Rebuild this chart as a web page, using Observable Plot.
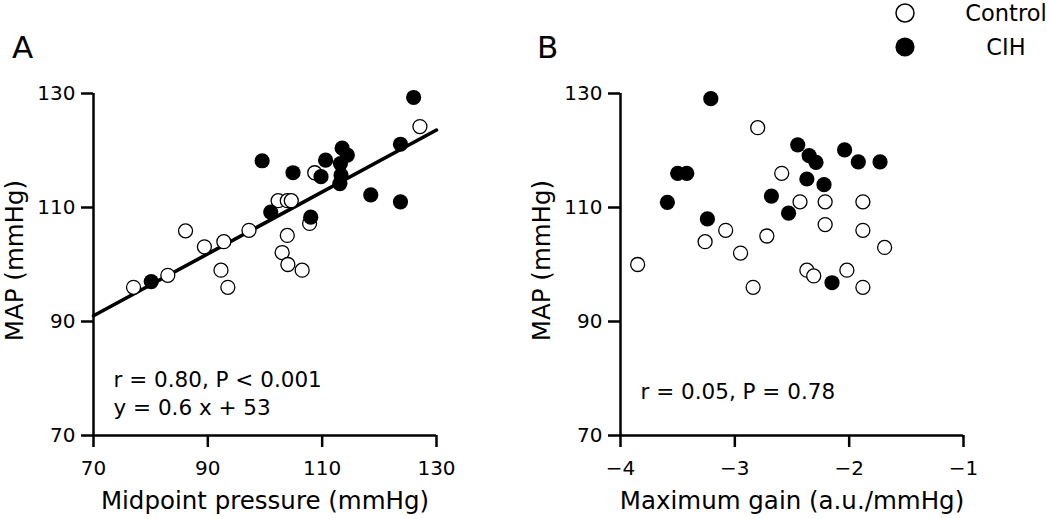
<!DOCTYPE html>
<html>
<head>
<meta charset="utf-8">
<script src="https://cdn.jsdelivr.net/npm/d3@7"></script>
<script src="https://cdn.jsdelivr.net/npm/@observablehq/plot@0.6"></script>
<style>
  body { margin: 0; background: #fff; }
  #chart { position: relative; width: 1050px; height: 519px; font-family: "DejaVu Sans"; color: #000; overflow: hidden; }
  #chart > svg { position: absolute; top: 0; }
</style>
</head>
<body>
<div id="chart"></div>
<script>
// ---- Data ----
// Panel A: MAP vs midpoint pressure
const controlMidpoint = [77.0, 83.0, 86.1, 89.4, 92.8, 92.3, 93.5, 97.2, 102.3, 103.9, 104.6, 103.9, 103.0, 104.0, 106.5, 107.8, 108.7, 127.1];
const controlMapA     = [96.0, 98.1, 105.9, 103.1, 104.0, 99.0, 96.0, 106.0, 111.2, 111.2, 111.2, 105.1, 102.1, 100.0, 99.0, 107.2, 116.1, 124.2];
const cihMidpoint = [80.1, 99.5, 101.0, 104.9, 108.0, 109.8, 110.6, 113.5, 114.4, 113.2, 113.3, 113.1, 118.5, 123.7, 123.7, 126.0];
const cihMapA     = [97.0, 118.2, 109.2, 116.1, 108.3, 115.4, 118.3, 120.4, 119.2, 117.7, 115.7, 114.2, 112.2, 111.0, 121.1, 129.3];

// Panel B: MAP vs maximum gain
const controlGain = [-3.85, -3.26, -3.08, -2.95, -2.84, -2.80, -2.72, -2.59, -2.43, -2.37, -2.31, -2.21, -2.21, -2.02, -1.88, -1.88, -1.88, -1.69];
const controlMapB = [100, 104, 106, 102, 96, 124, 105, 116, 111, 99, 98, 111, 107, 99, 111, 106, 96, 103];
const cihGain = [-3.21, -3.59, -3.50, -3.42, -3.24, -2.68, -2.53, -2.45, -2.35, -2.29, -2.37, -2.22, -2.04, -1.92, -1.73, -2.15];
const cihMapB = [129.1, 110.9, 116, 116, 108, 112, 109, 121, 119.1, 117.9, 115, 114, 120.1, 118, 118, 96.8];

// Regression line drawn in panel A
const fitSlope = 0.543;
const fitIntercept = 53;

// Axes
const mapDomain = [70, 130];
const mapTicks = [70, 90, 110, 130];
const midpointDomain = [70, 130];
const midpointTicks = [70, 90, 110, 130];
const gainDomain = [-4, -1];
const gainTicks = [-4, -3, -2, -1];

// Texts
const panelLetters = ["A", "B"];
const yTitle = "MAP (mmHg)";
const xTitleA = "Midpoint pressure (mmHg)";
const xTitleB = "Maximum gain (a.u./mmHg)";
const noteA = "r = 0.80, P < 0.001\ny = 0.6 x + 53";
const noteB = "r = 0.05, P = 0.78";
const legendLabels = ["Control", "CIH"];

// ---- Drawing ----
const FONT = "DejaVu Sans";
const toRows = (xs, ys) => xs.map((x, i) => ({x, y: ys[i]}));
const intFormat = d3.format("d");

function panel({xDomain, xTicks, xTitle, control, cih, fit, note, noteDy}) {
  const marks = [
    Plot.ruleX([xDomain[0]], {strokeWidth: 2.5}),
    Plot.ruleY([mapDomain[0]], {strokeWidth: 2.5}),
    Plot.axisX({ticks: xTicks, tickFormat: intFormat, tickSize: 12, tickPadding: 13, strokeWidth: 2.5, fontSize: 20, label: null}),
    Plot.axisY({ticks: mapTicks, tickFormat: intFormat, tickSize: 12, tickPadding: 6, strokeWidth: 2.5, fontSize: 20, label: null}),
    Plot.text([xTitle], {text: d => d, frameAnchor: "bottom", lineAnchor: "bottom", dy: 73, fontSize: 24.5}),
    Plot.text([yTitle], {text: d => d, frameAnchor: "left", rotate: -90, lineAnchor: "top", textAnchor: "middle", dx: -88, dy: -4, fontSize: 24.5})
  ];
  if (fit) {
    marks.push(Plot.line(xDomain.map(x => ({x, y: fit.slope * x + fit.intercept})), {x: "x", y: "y", stroke: "black", strokeWidth: 3.6}));
  }
  marks.push(
    Plot.dot(control, {x: "x", y: "y", r: 7, fill: "white", stroke: "black", strokeWidth: 1.3}),
    Plot.dot(cih, {x: "x", y: "y", r: 7.6, fill: "black", stroke: "none"}),
    Plot.text([note], {text: d => d, frameAnchor: "bottom-left", textAnchor: "start", lineAnchor: "bottom", dx: 20, dy: noteDy, fontSize: 21.5, lineHeight: 1.3})
  );
  return Plot.plot({
    width: 520, height: 519,
    marginLeft: 93, marginRight: 84, marginTop: 93, marginBottom: 84,
    style: {fontFamily: FONT, fontSize: "20px", background: "transparent", color: "#000", overflow: "visible"},
    x: {domain: xDomain},
    y: {domain: mapDomain},
    marks
  });
}

const chart = document.getElementById("chart");

const svgA = panel({
  xDomain: midpointDomain, xTicks: midpointTicks, xTitle: xTitleA,
  control: toRows(controlMidpoint, controlMapA), cih: toRows(cihMidpoint, cihMapA),
  fit: {slope: fitSlope, intercept: fitIntercept}, note: noteA, noteDy: -21
});
svgA.style.left = "0px";
chart.appendChild(svgA);

const svgB = panel({
  xDomain: gainDomain, xTicks: gainTicks, xTitle: xTitleB,
  control: toRows(controlGain, controlMapB), cih: toRows(cihGain, cihMapB),
  fit: null, note: noteB, noteDy: -37
});
svgB.style.left = "527px";
chart.appendChild(svgB);

// Overlay: panel letters and legend
const overlay = d3.select(chart).append("svg")
  .attr("width", 1050).attr("height", 519)
  .style("left", "0px").style("pointer-events", "none")
  .attr("font-family", FONT);

overlay.selectAll("text.letter").data(panelLetters).join("text")
  .attr("class", "letter")
  .attr("x", (d, i) => i === 0 ? 12 : 537)
  .attr("y", 58)
  .attr("font-size", 31)
  .text(d => d);

const legend = overlay.append("g");
legend.selectAll("circle").data(legendLabels).join("circle")
  .attr("cx", 905)
  .attr("cy", (d, i) => 13 + i * 34)
  .attr("r", (d, i) => i === 0 ? 9 : 9.6)
  .attr("fill", (d, i) => i === 0 ? "white" : "black")
  .attr("stroke", (d, i) => i === 0 ? "black" : "none")
  .attr("stroke-width", 1.5);
legend.selectAll("text").data(legendLabels).join("text")
  .attr("x", 1006)
  .attr("y", (d, i) => 21 + i * 34)
  .attr("text-anchor", "middle")
  .attr("font-size", 22.5)
  .text(d => d);
</script>
</body>
</html>
